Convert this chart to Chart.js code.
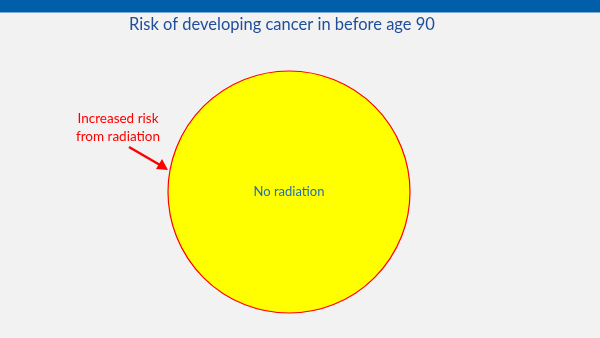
<!DOCTYPE html>
<html>
<head>
<meta charset="utf-8">
<script src="https://cdn.jsdelivr.net/npm/chart.js@4"></script>
<style>
  html, body { margin: 0; padding: 0; background: #f2f2f2; }
  #wrap { width: 600px; height: 338px; position: relative; }
</style>
</head>
<body>
<div id="wrap"><canvas id="riskChart" width="600" height="338"></canvas></div>
<script>
// chart data
var categories = ['No radiation', 'Increased risk from radiation'];
var riskValues = [99.98, 0.02];
var sliceColours = ['#ffff00', '#ff0000'];

var FONT = 'Lato, "Open Sans", sans-serif';

// slide decoration: blue bar, title, annotation and arrow
var slideDecor = {
    id: 'slideDecor',
    beforeDraw: function(chart) {
        var ctx = chart.ctx;
        ctx.save();
        ctx.fillStyle = '#f2f2f2';
        ctx.fillRect(0, 0, chart.width, chart.height);
        ctx.fillStyle = '#005eaa';
        ctx.fillRect(0, 0, chart.width, 12);
        ctx.fillStyle = '#7fa9d2';
        ctx.fillRect(0, 12, chart.width, 1);

        ctx.fillStyle = '#1f4e9a';
        ctx.font = '16.5px ' + FONT;
        ctx.textAlign = 'center';
        ctx.textBaseline = 'middle';
        ctx.fillText('Risk of developing cancer in before age 90', 282, 25);
        ctx.restore();
    },
    afterDraw: function(chart) {
        var ctx = chart.ctx;
        var arc = chart.getDatasetMeta(0).data[0];
        ctx.save();
        // outer edge of the pie (the thin red rim is the added risk)
        ctx.strokeStyle = '#ff0000';
        ctx.lineWidth = 1.2;
        ctx.beginPath();
        ctx.arc(arc.x, arc.y, arc.outerRadius, 0, Math.PI * 2);
        ctx.stroke();

        ctx.fillStyle = '#1f6fb4';
        ctx.font = '13px ' + FONT;
        ctx.textAlign = 'center';
        ctx.textBaseline = 'middle';
        ctx.fillText(categories[0], arc.x, arc.y);

        ctx.fillStyle = '#ff0000';
        ctx.font = '13.5px ' + FONT;
        ctx.fillText('Increased risk', 118, 119);
        ctx.fillText('from radiation', 118, 137);

        // arrow
        ctx.strokeStyle = '#ff0000';
        ctx.lineWidth = 2.5;
        ctx.beginPath();
        ctx.moveTo(129, 147);
        ctx.lineTo(160, 165);
        ctx.stroke();
        ctx.beginPath();
        ctx.moveTo(168, 170);
        ctx.lineTo(156, 169);
        ctx.lineTo(162, 159);
        ctx.closePath();
        ctx.fill();
        ctx.restore();
    }
};

var ctx = document.getElementById('riskChart').getContext('2d');
var riskChart = new Chart(ctx, {
    type: 'pie',
    data: {
        labels: categories,
        datasets: [{
            data: riskValues,
            backgroundColor: sliceColours,
            borderWidth: 0
        }]
    },
    options: {
        responsive: false,
        animation: false,
        layout: { padding: { left: 168, right: 190, top: 71, bottom: 25 } },
        plugins: {
            legend: { display: false },
            tooltip: { enabled: false },
            title: { display: false }
        }
    },
    plugins: [slideDecor]
});
// the extra slice is too thin to show as a wedge
riskChart.toggleDataVisibility(1);
riskChart.update();
</script>
</body>
</html>
